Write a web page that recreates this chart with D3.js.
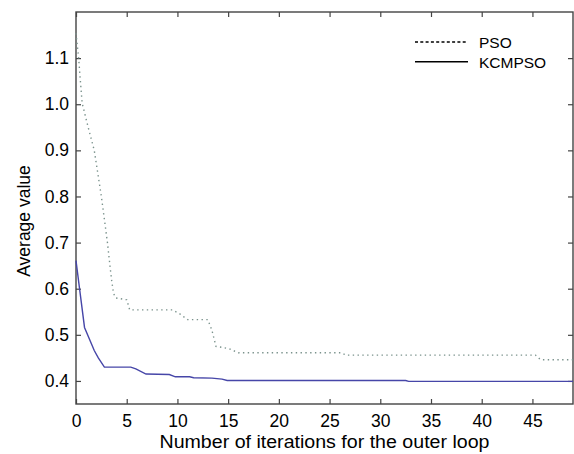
<!DOCTYPE html>
<html>
<head>
<meta charset="utf-8">
<script src="https://cdn.jsdelivr.net/npm/d3@7"></script>
<style>
  body { margin: 0; background: #fff; }
  svg { font-family: "Liberation Sans", Arial, sans-serif; }
</style>
</head>
<body>
<svg id="chart" width="574" height="454"></svg>
<script>
// PSO curve (iteration, average value)
const psoIter = [0, 0.25, 0.6, 1.2, 1.8, 2.5, 3.1, 3.5, 3.7, 3.9, 5.0, 5.3, 9.5, 10.2, 11, 13.0, 13.4, 13.8, 15.1, 16, 26.2, 26.6, 45.3, 45.8, 49];
const psoValue = [1.154, 1.103, 1.003, 0.95, 0.90, 0.80, 0.70, 0.62, 0.59, 0.58, 0.576, 0.554, 0.554, 0.546, 0.533, 0.533, 0.51, 0.475, 0.470, 0.461, 0.461, 0.456, 0.456, 0.446, 0.446];

// KCMPSO curve
const kcmIter = [0, 0.35, 0.84, 1.8, 2.2, 2.8, 5.4, 5.9, 6.9, 9.2, 9.8, 11.2, 11.6, 13.4, 14.4, 14.9, 32.5, 32.8, 49];
const kcmValue = [0.661, 0.60, 0.516, 0.466, 0.45, 0.43, 0.43, 0.426, 0.415, 0.414, 0.409, 0.409, 0.407, 0.406, 0.404, 0.401, 0.401, 0.399, 0.399];

const xTicks = [0, 5, 10, 15, 20, 25, 30, 35, 40, 45];
const yTicks = [0.4, 0.5, 0.6, 0.7, 0.8, 0.9, 1.0, 1.1];
const seriesNames = ['PSO', 'KCMPSO'];

const svg = d3.select('#chart');
const margin = { top: 12, right: 1, bottom: 50, left: 76 };
const width = 574 - margin.left - margin.right;
const height = 454 - margin.top - margin.bottom;

const x = d3.scaleLinear().domain([0, 49]).range([0, width]);
const y = d3.scaleLinear().domain([0.35, 1.2]).range([height, 0]);

const chart = svg.append('g')
    .attr('transform', `translate(${margin.left},${margin.top})`);

// Frame
chart.append('rect')
    .attr('width', width)
    .attr('height', height)
    .attr('fill', 'none')
    .attr('stroke', '#444')
    .attr('stroke-width', 1.4);

// Axes with inward ticks (MATLAB style)
const styleAxis = g => {
    g.select('.domain').remove();
    g.selectAll('.tick line').attr('stroke', '#444').attr('stroke-width', 1.2);
    g.selectAll('.tick text').attr('fill', '#000').style('font-size', '17.5px');
};

chart.append('g')
    .attr('transform', `translate(0,${height})`)
    .call(d3.axisBottom(x).tickValues(xTicks).tickSizeInner(-5).tickPadding(11).tickFormat(d3.format('d')))
    .call(styleAxis);

chart.append('g')
    .call(d3.axisTop(x).tickValues(xTicks).tickSizeInner(-5).tickFormat(''))
    .call(styleAxis);

chart.append('g')
    .call(d3.axisLeft(y).tickValues(yTicks).tickSizeInner(-5).tickPadding(7).tickFormat(d3.format('.1f')))
    .call(styleAxis);

chart.append('g')
    .attr('transform', `translate(${width},0)`)
    .call(d3.axisRight(y).tickValues(yTicks).tickSizeInner(-5).tickFormat(''))
    .call(styleAxis);

// Lines
const line = d3.line()
    .x(d => x(d[0]))
    .y(d => y(d[1]));

chart.append('path')
    .datum(d3.zip(psoIter, psoValue))
    .attr('fill', 'none')
    .attr('stroke', '#7a928c')
    .attr('stroke-width', 1.4)
    .attr('stroke-dasharray', '1.4,3.4')
    .attr('d', line);

chart.append('path')
    .datum(d3.zip(kcmIter, kcmValue))
    .attr('fill', 'none')
    .attr('stroke', '#4646a8')
    .attr('stroke-width', 1.4)
    .attr('d', line);

// Legend
const legend = svg.append('g').attr('transform', 'translate(415,42)');
seriesNames.forEach((name, i) => {
    const row = legend.append('g').attr('transform', `translate(0,${i * 19.7})`);
    row.append('line')
        .attr('x1', 0).attr('x2', 53)
        .attr('stroke', '#000')
        .attr('stroke-width', 1.5)
        .attr('stroke-dasharray', i === 0 ? '3,2.3' : null);
    row.append('text')
        .attr('x', 64)
        .attr('y', 5.8)
        .style('font-size', '15.5px')
        .text(name);
});

// Axis labels
svg.append('text')
    .attr('x', margin.left + width / 2)
    .attr('y', 448)
    .attr('textLength', 330)
    .attr('lengthAdjust', 'spacingAndGlyphs')
    .style('text-anchor', 'middle')
    .style('font-size', '17.5px')
    .text('Number of iterations for the outer loop');

svg.append('text')
    .attr('transform', 'rotate(-90)')
    .attr('x', -221)
    .attr('y', 30)
    .style('text-anchor', 'middle')
    .style('font-size', '17.5px')
    .text('Average value');
</script>
</body>
</html>
